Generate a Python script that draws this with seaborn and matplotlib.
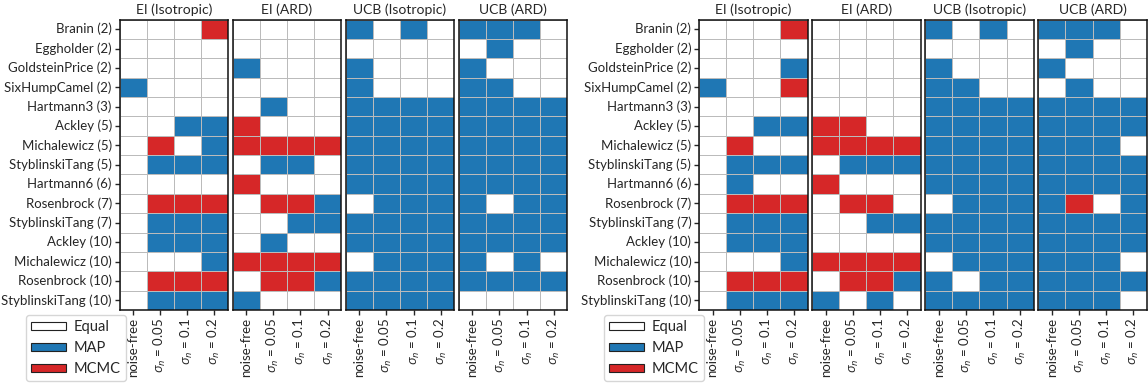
import numpy as np
import pandas as pd
import matplotlib
matplotlib.use("Agg")
import matplotlib.pyplot as plt
from matplotlib.colors import ListedColormap
from matplotlib.patches import Patch
import seaborn as sns

# Benchmark problems (dimension in brackets) and noise settings
problems = [
    "Branin (2)", "Eggholder (2)", "GoldsteinPrice (2)", "SixHumpCamel (2)",
    "Hartmann3 (3)", "Ackley (5)", "Michalewicz (5)", "StyblinskiTang (5)",
    "Hartmann6 (6)", "Rosenbrock (7)", "StyblinskiTang (7)", "Ackley (10)",
    "Michalewicz (10)", "Rosenbrock (10)", "StyblinskiTang (10)",
]
noise_labels = ["noise-free", r"$\sigma_n$ = 0.05", r"$\sigma_n$ = 0.1", r"$\sigma_n$ = 0.2"]
settings = ["EI (Isotropic)", "EI (ARD)", "UCB (Isotropic)", "UCB (ARD)"]
outcomes = ["Equal", "MAP", "MCMC"]  # 0, 1, 2

# Winner per problem / noise level: 0 = Equal, 1 = MAP better, 2 = MCMC better
left_ei_iso = [
    [0, 0, 0, 2], [0, 0, 0, 0], [0, 0, 0, 0], [1, 0, 0, 0], [0, 0, 0, 0],
    [0, 0, 1, 1], [0, 2, 0, 1], [0, 1, 1, 1], [0, 0, 0, 0], [0, 2, 2, 2],
    [0, 1, 1, 1], [0, 1, 1, 1], [0, 0, 0, 1], [0, 2, 2, 2], [0, 1, 1, 1],
]
left_ei_ard = [
    [0, 0, 0, 0], [0, 0, 0, 0], [1, 0, 0, 0], [0, 0, 0, 0], [0, 1, 0, 0],
    [2, 0, 0, 0], [2, 2, 2, 2], [0, 1, 1, 0], [2, 0, 0, 0], [0, 2, 2, 1],
    [0, 0, 1, 1], [0, 1, 0, 0], [2, 2, 2, 2], [0, 2, 2, 1], [1, 0, 0, 0],
]
left_ucb_iso = [
    [1, 0, 1, 0], [0, 0, 0, 0], [1, 0, 0, 0], [1, 0, 0, 0], [1, 1, 1, 1],
    [1, 1, 1, 1], [1, 1, 1, 1], [1, 1, 1, 1], [1, 1, 1, 1], [0, 1, 1, 1],
    [1, 1, 1, 1], [1, 1, 1, 1], [0, 1, 1, 1], [1, 1, 1, 1], [1, 1, 1, 1],
]
left_ucb_ard = [
    [1, 1, 1, 0], [0, 1, 0, 0], [1, 0, 0, 0], [1, 1, 0, 0], [1, 1, 1, 1],
    [1, 1, 1, 1], [1, 1, 1, 1], [1, 1, 1, 1], [1, 1, 1, 1], [1, 0, 1, 1],
    [1, 1, 1, 1], [1, 1, 1, 1], [1, 0, 1, 0], [1, 1, 1, 1], [0, 0, 0, 0],
]
right_ei_iso = [
    [0, 0, 0, 2], [0, 0, 0, 0], [0, 0, 0, 1], [1, 0, 0, 2], [0, 0, 0, 0],
    [0, 0, 1, 1], [0, 2, 0, 0], [0, 1, 1, 1], [0, 1, 0, 0], [0, 2, 2, 2],
    [0, 1, 1, 1], [0, 1, 1, 1], [0, 0, 0, 1], [0, 2, 2, 2], [0, 1, 1, 1],
]
right_ei_ard = [
    [0, 0, 0, 0], [0, 0, 0, 0], [0, 0, 0, 0], [0, 0, 0, 0], [0, 0, 0, 0],
    [2, 2, 0, 0], [2, 2, 2, 2], [0, 1, 1, 1], [2, 0, 0, 0], [0, 2, 2, 0],
    [0, 0, 1, 1], [0, 0, 0, 0], [2, 2, 2, 2], [0, 2, 2, 1], [1, 0, 1, 0],
]
right_ucb_iso = [
    [1, 0, 1, 0], [0, 0, 0, 0], [1, 0, 0, 0], [1, 1, 0, 0], [1, 1, 1, 1],
    [1, 1, 1, 1], [1, 1, 1, 1], [1, 1, 1, 1], [1, 1, 1, 1], [0, 1, 1, 1],
    [1, 1, 1, 1], [1, 1, 1, 1], [0, 1, 1, 1], [1, 0, 1, 1], [1, 1, 1, 1],
]
right_ucb_ard = [
    [1, 1, 1, 0], [0, 1, 0, 0], [1, 0, 0, 0], [0, 1, 0, 0], [1, 1, 1, 1],
    [1, 1, 1, 1], [1, 1, 1, 0], [1, 1, 1, 1], [1, 1, 1, 1], [1, 2, 0, 1],
    [1, 1, 1, 1], [1, 1, 1, 1], [1, 1, 1, 0], [1, 1, 1, 1], [1, 1, 1, 0],
]

groups = [
    [left_ei_iso, left_ei_ard, left_ucb_iso, left_ucb_ard],
    [right_ei_iso, right_ei_ard, right_ucb_iso, right_ucb_ard],
]

sns.set_style("white")
plt.rcParams["font.family"] = ["Lato", "DejaVu Sans"]
plt.rcParams["mathtext.fontset"] = "custom"
plt.rcParams["mathtext.rm"] = "Lato"
plt.rcParams["mathtext.it"] = "Open Sans:italic"

colors = ["#ffffff", "#1f77b4", "#d62728"]
cmap = ListedColormap(colors)

W, H = 1148, 383
fig = plt.figure(figsize=(W / 100, H / 100), dpi=100)

panel_w, gap = 108.5, 4.6
top_px, bot_px = 19.5, 310.0
group_x0 = [119.5, 699.0]
legend_x = [26.0, 604.0]

for g, (x0, panels) in enumerate(zip(group_x0, groups)):
    for k, (name, mat) in enumerate(zip(settings, panels)):
        left = x0 + k * (panel_w + gap)
        ax = fig.add_axes([left / W, (H - bot_px) / H, panel_w / W, (bot_px - top_px) / H])
        df = pd.DataFrame(mat, index=problems, columns=noise_labels)
        sns.heatmap(df, ax=ax, cmap=cmap, vmin=-0.5, vmax=2.5, cbar=False,
                    linewidths=0.6, linecolor="#bbbbbb", square=False)
        for s in ax.spines.values():
            s.set_visible(True)
            s.set_color("#111111")
            s.set_linewidth(1.1)
        ax.set_title(name, fontsize=10, pad=4)
        ax.set_xlabel("")
        ax.set_ylabel("")
        ax.tick_params(axis="x", bottom=True, length=3.5, width=1.0, labelsize=9.5,
                       labelrotation=90, pad=2)
        if k == 0:
            ax.tick_params(axis="y", left=True, length=3.5, width=1.0, labelsize=9.5,
                           labelrotation=0, pad=2)
        else:
            ax.set_yticks([])
            ax.set_yticklabels([])

    handles = [Patch(facecolor=c, edgecolor="#222222", linewidth=0.8, label=l)
               for c, l in zip(colors, outcomes)]
    lx = legend_x[g]
    fig.legend(handles=handles, loc="upper left",
               bbox_to_anchor=(lx / W, (H - 315) / H),
               fontsize=10.5, frameon=True, handlelength=2.4, handleheight=0.55,
               handletextpad=0.5, labelspacing=0.48, borderpad=0.35,
               borderaxespad=0.0, edgecolor="#cccccc", fancybox=True)

fig.savefig("out.png", dpi=100)
